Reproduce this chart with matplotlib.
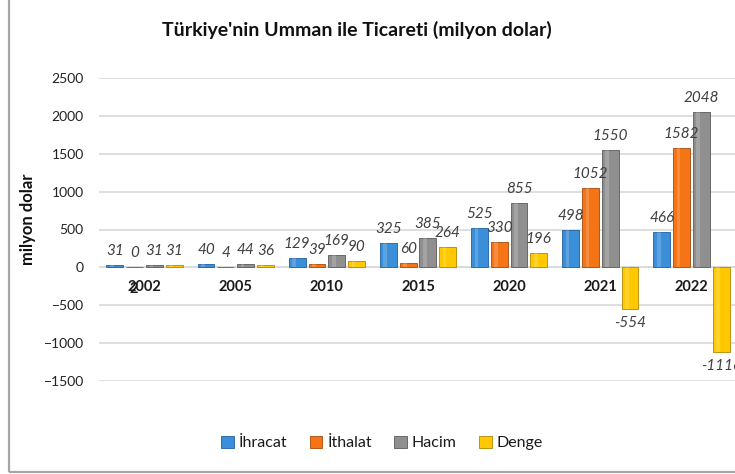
import numpy as np
import matplotlib.pyplot as plt
from matplotlib.patches import Rectangle

plt.rcParams['font.family'] = ['Lato', 'DejaVu Sans']

years = ['2002', '2005', '2010', '2015', '2020', '2021', '2022']
ihracat = [31, 40, 129, 325, 525, 498, 466]
ithalat = [0, 4, 39, 60, 330, 1052, 1582]
hacim = [31, 44, 169, 385, 855, 1550, 2048]
denge = [31, 36, 90, 264, 196, -554, -1116]

series = [('İhracat', ihracat, '#3b8fd9', '#1f5f9e'),
          ('İthalat', ithalat, '#f47416', '#a84808'),
          ('Hacim', hacim, '#8f8f8f', '#5a5a5a'),
          ('Denge', denge, '#ffc800', '#b08800')]

fig = plt.figure(figsize=(7.35, 4.74), dpi=100)
ax = fig.add_axes([99 / 735, 1 - 381 / 474, 638 / 735, 303 / 474])

x = np.arange(len(years))
step = 0.217
width = 0.185
txt_col = '#404040'

for k, (name, vals, col, edge) in enumerate(series):
    pos = x + (k - 1.5) * step
    ax.bar(pos, vals, width, color=col, edgecolor=edge, linewidth=0.6,
           label=name, zorder=3)
    # light highlight strip for the bevelled look
    ax.bar(pos - width * 0.18, vals, width * 0.22, color='white', alpha=0.18,
           linewidth=0, zorder=4)
    for p, v in zip(pos, vals):
        off = 5 if v >= 0 else -5
        ax.annotate(str(v), (p, v), xytext=(0, off), textcoords='offset points',
                    ha='center', va='bottom' if v >= 0 else 'top',
                    fontsize=11, style='italic', color=txt_col,
                    annotation_clip=False, zorder=6)

for i, yr in enumerate(years):
    ax.annotate(yr, (i, 0), xytext=(0, -14), textcoords='offset points',
                ha='center', va='center', fontsize=10.5, fontweight='bold',
                color='#1a1a1a', annotation_clip=False)
# the stray overlapping "2" near the first category label
ax.annotate('2', (0, 0), xytext=(-8, -15.5), textcoords='offset points',
            ha='center', va='center', fontsize=10.5, fontweight='bold',
            color='#1a1a1a', annotation_clip=False)

ax.set_xlim(-0.5, len(years) - 0.5)
ax.set_ylim(-1500, 2500)
ax.set_yticks(np.arange(-1500, 2501, 500))
ax.set_xticks([])
ax.grid(axis='y', color='#dcdcdc', linewidth=1.3, zorder=0)
ax.axhline(0, color='#d0d0d0', linewidth=1.3, zorder=1)
for s in ax.spines.values():
    s.set_visible(False)
ax.tick_params(axis='y', length=0, labelsize=10, labelcolor='#222222', pad=11)

fig.text(28 / 735, 1 - 219 / 474, 'milyon dolar', rotation=90, ha='center',
         va='center', fontsize=12, fontweight='bold', color='#111111')
fig.text(357 / 735, 1 - 30 / 474, "Türkiye'nin Umman ile Ticareti (milyon dolar)",
         ha='center', va='center', fontsize=14, fontweight='bold', color='#111111')

leg = fig.legend(loc='center', bbox_to_anchor=(382 / 735, 1 - 443 / 474), ncol=4,
                 frameon=False, fontsize=11.5, handlelength=0.8, handleheight=0.8,
                 handletextpad=0.3, columnspacing=1.4)
for t in leg.get_texts():
    t.set_color('#1a1a1a')

fig.patches.append(Rectangle((9 / 735, 2 / 474), 1.0, 1.0, transform=fig.transFigure,
                             fill=False, edgecolor='#a6a6a6', linewidth=1.6))

fig.savefig('out.png', dpi=100)
